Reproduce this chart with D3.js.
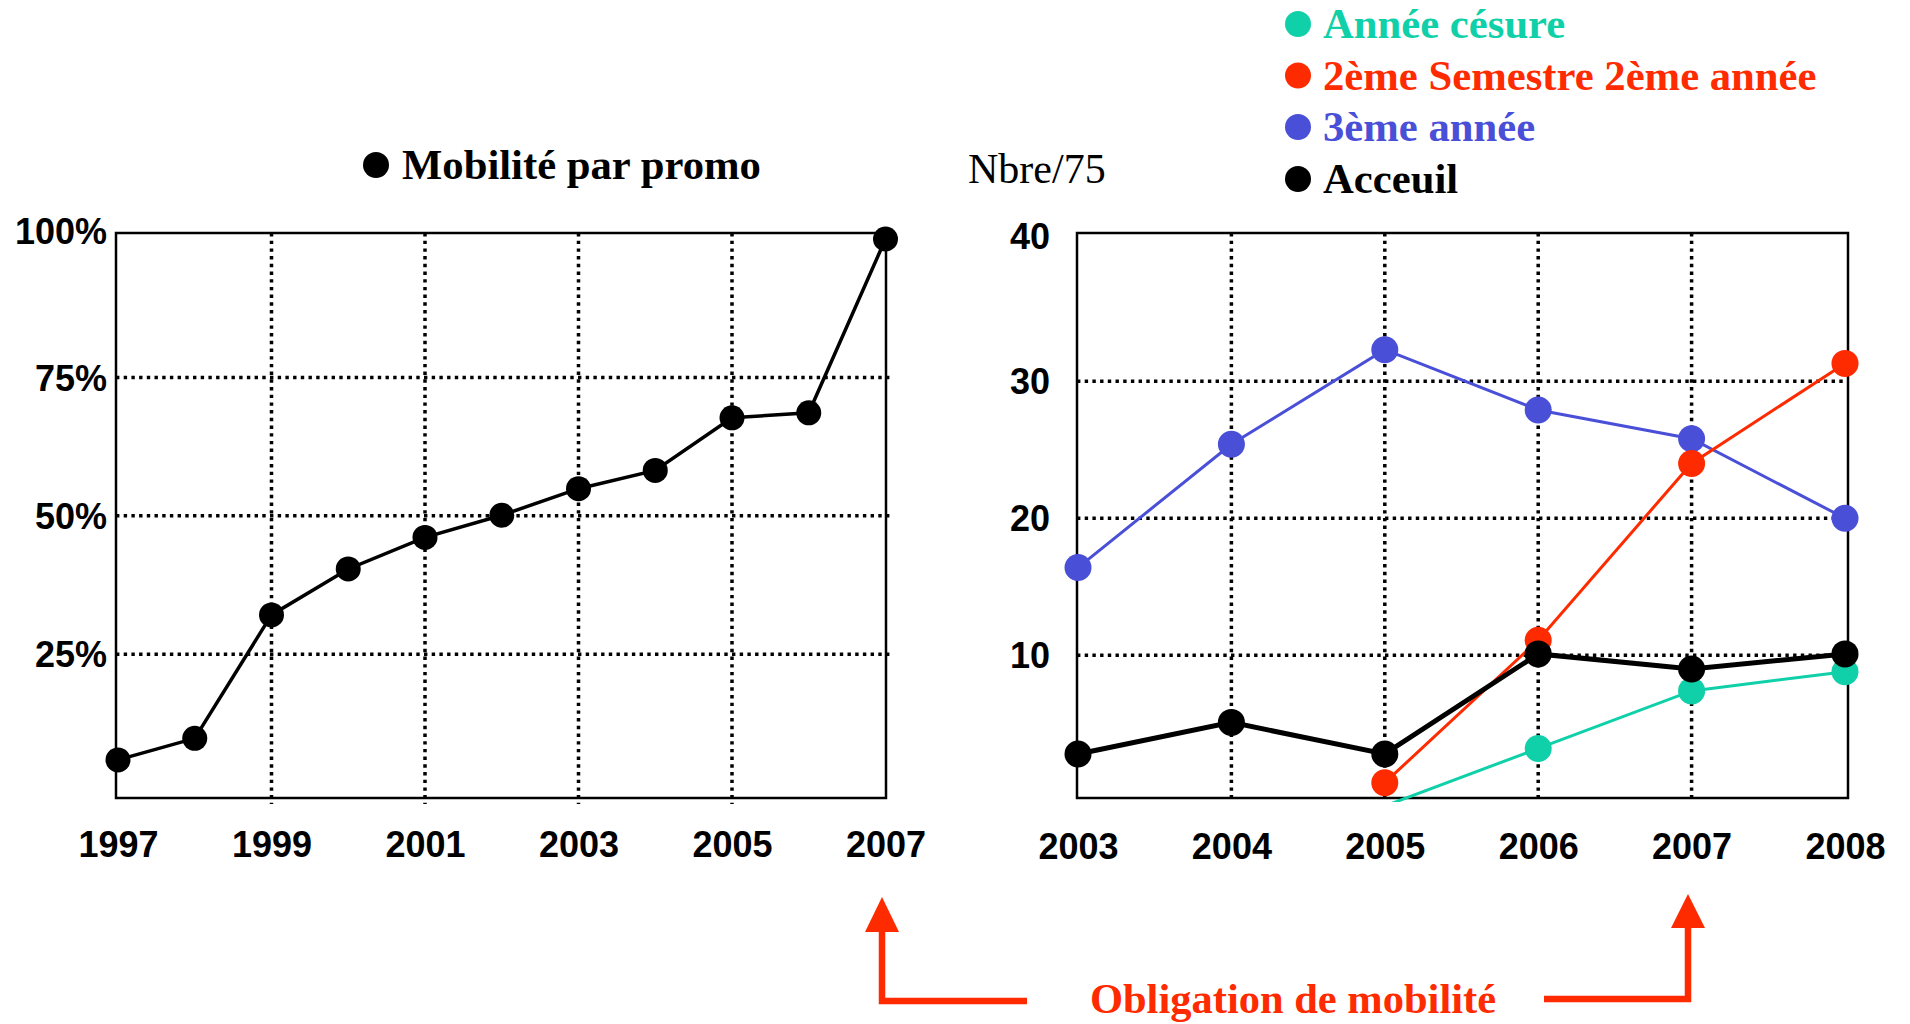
<!DOCTYPE html>
<html>
<head>
<meta charset="utf-8">
<script src="https://cdn.jsdelivr.net/npm/d3@7"></script>
<style>
  html, body { margin: 0; padding: 0; background: #fff; }
  svg { display: block; }
</style>
</head>
<body>
<svg id="chart" width="1910" height="1024"></svg>
<script>
// ---- Data ----
const leftYears = [1997, 1998, 1999, 2000, 2001, 2002, 2003, 2004, 2005, 2006, 2007];
const leftValues = [5.9, 9.8, 32.1, 40.4, 46.1, 50.1, 54.9, 58.2, 67.7, 68.6, 100];
const leftXTicks = [1997, 1999, 2001, 2003, 2005, 2007];
const leftYTicks = [25, 50, 75, 100];
const leftTitle = "Mobilité par promo";

const rightYears = [2003, 2004, 2005, 2006, 2007, 2008];
const cesure = [null, null, -1.0, 3.2, 7.4, 8.8];
const semestre2 = [null, null, 0.7, 11.1, 24.0, 31.3];
const annee3 = [16.4, 25.4, 32.3, 27.9, 25.8, 20.0];
const acceuil = [2.8, 5.1, 2.8, 10.1, 9.0, 10.1];
const rightYTicks = [10, 20, 30, 40];
const seriesNames = ["Année césure", "2ème Semestre 2ème année", "3ème année", "Acceuil"];
const seriesColors = ["#0FD0A8", "#FF2B00", "#4A4FD8", "#000000"];
const rightYLabel = "Nbre/75";
const annotation = "Obligation de mobilité";

const svg = d3.select("#chart");
const serif = "'Liberation Serif', 'Times New Roman', serif";
const sans = "'Liberation Sans', Arial, sans-serif";

function dotted(sel) {
  return sel.attr("stroke", "#000").attr("stroke-width", 3.5).attr("stroke-dasharray", "3.4 4.3");
}

// ---------- LEFT CHART ----------
const L = { x0: 116, x1: 886, y0: 233, y1: 798 };
const lx = d3.scaleLinear().domain([1997, 2007]).range([118, 885.5]);
const ly = d3.scaleLinear().domain([0, 100]).range([792.6, 239]);

const gL = svg.append("g");
gL.selectAll("line.hg").data(leftYTicks.filter(d => d < 100)).join("line")
  .attr("x1", L.x0).attr("x2", L.x1 + 6).attr("y1", d => ly(d)).attr("y2", d => ly(d)).call(dotted);
gL.selectAll("line.vg").data(leftXTicks.slice(1, -1)).join("line")
  .attr("x1", d => lx(d)).attr("x2", d => lx(d)).attr("y1", L.y0).attr("y2", L.y1 + 6).call(dotted);
gL.append("rect").attr("x", L.x0).attr("y", L.y0).attr("width", L.x1 - L.x0).attr("height", L.y1 - L.y0)
  .attr("fill", "none").attr("stroke", "#000").attr("stroke-width", 2.5);
const lxAxis = d3.axisBottom(lx).tickValues(leftXTicks).tickFormat(d3.format("d")).tickSize(0).tickPadding(0);
gL.append("g").attr("transform", `translate(0, 857)`).call(lxAxis)
  .call(g => g.select(".domain").remove())
  .selectAll("text").attr("font-family", sans).attr("font-weight", "bold").attr("font-size", 36).attr("fill", "#000").attr("dy", "0");
const lyAxis = d3.axisLeft(ly).tickValues(leftYTicks).tickFormat(d => d + "%").tickSize(0).tickPadding(0);
gL.append("g").attr("transform", `translate(107, 0)`).call(lyAxis)
  .call(g => g.select(".domain").remove())
  .selectAll("text").attr("font-family", sans).attr("font-weight", "bold").attr("font-size", 36).attr("fill", "#000")
  .attr("dy", d => d === 100 ? "0.12em" : "0.35em");
const leftData = leftYears.map((y, i) => ({ x: y, v: leftValues[i] }));
gL.append("path").datum(leftData)
  .attr("d", d3.line().x(d => lx(d.x)).y(d => ly(d.v)))
  .attr("fill", "none").attr("stroke", "#000").attr("stroke-width", 3.5);
gL.selectAll("circle.m").data(leftData).join("circle")
  .attr("cx", d => lx(d.x)).attr("cy", d => ly(d.v)).attr("r", 12.5).attr("fill", "#000");
gL.append("circle").attr("cx", 376).attr("cy", 165).attr("r", 13).attr("fill", "#000");
gL.append("text").attr("x", 402).attr("y", 179).text(leftTitle)
  .attr("font-family", serif).attr("font-weight", "bold").attr("font-size", 42.7).attr("fill", "#000");

// ---------- RIGHT CHART ----------
const R = { x0: 1077, x1: 1848, y0: 233, y1: 798 };
const rx = d3.scaleLinear().domain([2003, 2008]).range([1078, 1845]);
const ry = d3.scaleLinear().domain([0, 40]).range([792.3, 244.2]);

const gR = svg.append("g");
gR.selectAll("line.hg").data(rightYTicks.filter(d => d < 40)).join("line")
  .attr("x1", R.x0).attr("x2", R.x1).attr("y1", d => ry(d)).attr("y2", d => ry(d)).call(dotted);
gR.selectAll("line.vg").data(rightYears.slice(1, -1)).join("line")
  .attr("x1", d => rx(d)).attr("x2", d => rx(d)).attr("y1", R.y0).attr("y2", R.y1).call(dotted);
gR.append("rect").attr("x", R.x0).attr("y", R.y0).attr("width", R.x1 - R.x0).attr("height", R.y1 - R.y0)
  .attr("fill", "none").attr("stroke", "#000").attr("stroke-width", 2.5);

const rxAxis = d3.axisBottom(rx).tickValues(rightYears).tickFormat(d3.format("d")).tickSize(0).tickPadding(0);
gR.append("g").attr("transform", `translate(0, 859)`).call(rxAxis)
  .call(g => g.select(".domain").remove())
  .selectAll("text").attr("font-family", sans).attr("font-weight", "bold").attr("font-size", 36).attr("fill", "#000").attr("dy", "0");
const ryAxis = d3.axisLeft(ry).tickValues(rightYTicks).tickFormat(d3.format("d")).tickSize(0).tickPadding(0);
gR.append("g").attr("transform", `translate(1050, 0)`).call(ryAxis)
  .call(g => g.select(".domain").remove())
  .selectAll("text").attr("font-family", sans).attr("font-weight", "bold").attr("font-size", 36).attr("fill", "#000")
  .attr("dy", d => d === 40 ? "0.12em" : "0.35em");

svg.append("defs").append("clipPath").attr("id", "rclip")
  .append("rect").attr("x", R.x0 - 20).attr("y", R.y0 - 20).attr("width", R.x1 - R.x0 + 40).attr("height", R.y1 - R.y0 + 24);

const seriesValues = [cesure, semestre2, annee3, acceuil];
const widths = [3, 3, 3, 5];
const drawOrder = [2, 1, 0, 3];
drawOrder.forEach(si => {
  const data = rightYears.map((y, i) => ({ x: y, v: seriesValues[si][i] })).filter(d => d.v !== null);
  const g = gR.append("g").attr("clip-path", "url(#rclip)");
  g.append("path").datum(data)
    .attr("d", d3.line().x(d => rx(d.x)).y(d => ry(d.v)))
    .attr("fill", "none").attr("stroke", seriesColors[si]).attr("stroke-width", widths[si]);
  g.selectAll("circle").data(data.filter(d => d.v >= 0)).join("circle")
    .attr("cx", d => rx(d.x)).attr("cy", d => ry(d.v)).attr("r", 13.5).attr("fill", seriesColors[si]);
});

const legY = [24, 75.5, 127, 179];
seriesNames.forEach((name, i) => {
  svg.append("circle").attr("cx", 1298).attr("cy", legY[i]).attr("r", 13).attr("fill", seriesColors[i]);
  svg.append("text").attr("x", 1323).attr("y", legY[i] + 14).text(name)
    .attr("font-family", serif).attr("font-weight", "bold").attr("font-size", 42.7).attr("fill", seriesColors[i]);
});
svg.append("text").attr("x", 968).attr("y", 183).text(rightYLabel)
  .attr("font-family", serif).attr("font-size", 42).attr("fill", "#000");

// ---------- ANNOTATION ----------
const red = "#FF2B00";
const ga = svg.append("g");
ga.append("path").attr("d", "M1027,1001 H882 V930").attr("fill", "none").attr("stroke", red).attr("stroke-width", 6.5);
ga.append("path").attr("d", "M865,932 L882,897 L899,932 Z").attr("fill", red);
ga.append("path").attr("d", "M1544,999 H1688 V926").attr("fill", "none").attr("stroke", red).attr("stroke-width", 6.5);
ga.append("path").attr("d", "M1671,928 L1688,894 L1705,928 Z").attr("fill", red);
ga.append("text").attr("x", 1293).attr("y", 1013).attr("text-anchor", "middle").text(annotation)
  .attr("font-family", serif).attr("font-weight", "bold").attr("font-size", 42.5).attr("fill", red);
</script>
</body>
</html>
